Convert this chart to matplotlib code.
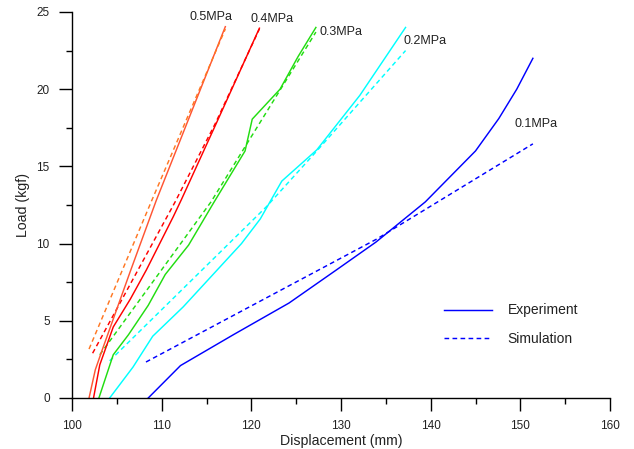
import matplotlib
matplotlib.use("Agg")
import matplotlib.pyplot as plt

# Load-displacement curves, experiment (solid) vs simulation (dashed)
PRESSURES = ["0.1MPa", "0.2MPa", "0.3MPa", "0.4MPa", "0.5MPa"]

EXP_01_X = [108.5, 112.1, 118.0, 124.2, 129.5, 133.9, 139.4, 145.0, 147.6, 149.6, 151.4]
EXP_01_Y = [0.0, 2.1, 4.1, 6.15, 8.3, 10.1, 12.7, 16.0, 18.1, 20.0, 22.0]
SIM_01_X = [108.25, 134.0, 151.4]
SIM_01_Y = [2.33, 10.3, 16.46]

EXP_02_X = [104.2, 106.8, 109.0, 112.4, 118.9, 121.0, 123.4, 127.3, 132.1, 137.2]
EXP_02_Y = [0.0, 2.0, 4.0, 5.9, 10.0, 11.6, 14.05, 16.07, 19.6, 24.0]
SIM_02_X = [104.2, 121.7, 127.3, 137.2]
SIM_02_Y = [2.41, 12.4, 16.0, 22.5]

EXP_03_X = [103.0, 104.6, 106.3, 108.5, 110.4, 113.0, 115.75, 119.3, 120.1, 123.2, 125.2, 127.2]
EXP_03_Y = [0.0, 2.8, 4.1, 6.0, 8.0, 9.9, 12.6, 16.0, 18.06, 20.0, 22.1, 24.0]
SIM_03_X = [103.1, 115.5, 127.2]
SIM_03_Y = [2.8, 12.7, 23.7]

EXP_04_X = [102.4, 103.1, 104.6, 106.5, 108.3, 111.3, 112.2, 116.1, 119.3, 120.9]
EXP_04_Y = [0.0, 2.15, 4.6, 6.4, 8.3, 11.75, 12.85, 17.8, 21.9, 23.95]
SIM_04_X = [102.3, 111.5, 116.0, 120.9]
SIM_04_Y = [2.9, 12.7, 17.8, 23.9]

EXP_05_X = [101.9, 102.6, 103.3, 106.5, 109.4, 117.1]
EXP_05_Y = [0.0, 1.83, 3.0, 8.2, 12.8, 24.05]
SIM_05_X = [101.9, 108.9, 117.1]
SIM_05_Y = [3.17, 12.8, 23.9]

# label anchor positions (data coordinates)
LABEL_X = [149.3, 137.0, 127.65, 119.95, 113.15]
LABEL_Y = [17.75, 23.13, 23.7, 24.55, 24.68]

EXP_COLORS = ["#0000FF", "#00FFFF", "#22DD11", "#FF0000", "#FF5533"]
SIM_COLORS = ["#0000FF", "#00FFFF", "#22DD11", "#FF0000", "#FF7722"]

plt.rcParams["font.family"] = ["Liberation Sans", "DejaVu Sans"]

fig = plt.figure(figsize=(6.34, 4.49), dpi=100)
ax = fig.add_axes([72 / 634, 51 / 449, 538 / 634, 386 / 449])

exp_x = [EXP_01_X, EXP_02_X, EXP_03_X, EXP_04_X, EXP_05_X]
exp_y = [EXP_01_Y, EXP_02_Y, EXP_03_Y, EXP_04_Y, EXP_05_Y]
sim_x = [SIM_01_X, SIM_02_X, SIM_03_X, SIM_04_X, SIM_05_X]
sim_y = [SIM_01_Y, SIM_02_Y, SIM_03_Y, SIM_04_Y, SIM_05_Y]

lw = 1.05
dash = (3.2, 2.3)
for i in range(len(PRESSURES)):
    ax.plot(exp_x[i], exp_y[i], color=EXP_COLORS[i], lw=lw, clip_on=False)
    ax.plot(sim_x[i], sim_y[i], color=SIM_COLORS[i], lw=lw, dashes=dash, clip_on=False)
    ax.text(LABEL_X[i], LABEL_Y[i], PRESSURES[i], fontsize=9, color="#222222",
            ha="left", va="center", clip_on=False)

# legend handles
ax.plot([], [], color="#0000FF", lw=lw, label="Experiment")
ax.plot([], [], color="#0000FF", lw=lw, dashes=dash, label="Simulation")
leg = ax.legend(loc="upper left", bbox_to_anchor=(0.691, 0.245), frameon=False,
                fontsize=10, handlelength=3.45, handletextpad=1.15, labelspacing=1.05,
                borderpad=0, borderaxespad=0)
for t in leg.get_texts():
    t.set_color("#222222")

ax.set_xlim(100, 160)
ax.set_ylim(0, 25)
ax.set_xticks(range(100, 161, 10))
ax.set_xticks(range(105, 160, 10), minor=True)
ax.set_yticks(range(0, 26, 5))
ax.set_yticks([2.5, 7.5, 12.5, 17.5, 22.5], minor=True)

for side in ["top", "right"]:
    ax.spines[side].set_visible(False)
for side in ["left", "bottom"]:
    ax.spines[side].set_linewidth(1.0)

ax.tick_params(which="major", direction="out", length=9.5, width=1.0, labelsize=8.5,
               labelcolor="#222222", pad=6.5)
ax.tick_params(which="minor", direction="out", length=4.5, width=1.0)

ax.set_xlabel("Displacement (mm)", fontsize=10.2, color="#222222", labelpad=1)
ax.set_ylabel("Load (kgf)", fontsize=10.2, color="#222222", labelpad=5)

fig.savefig("out.png", dpi=100)
